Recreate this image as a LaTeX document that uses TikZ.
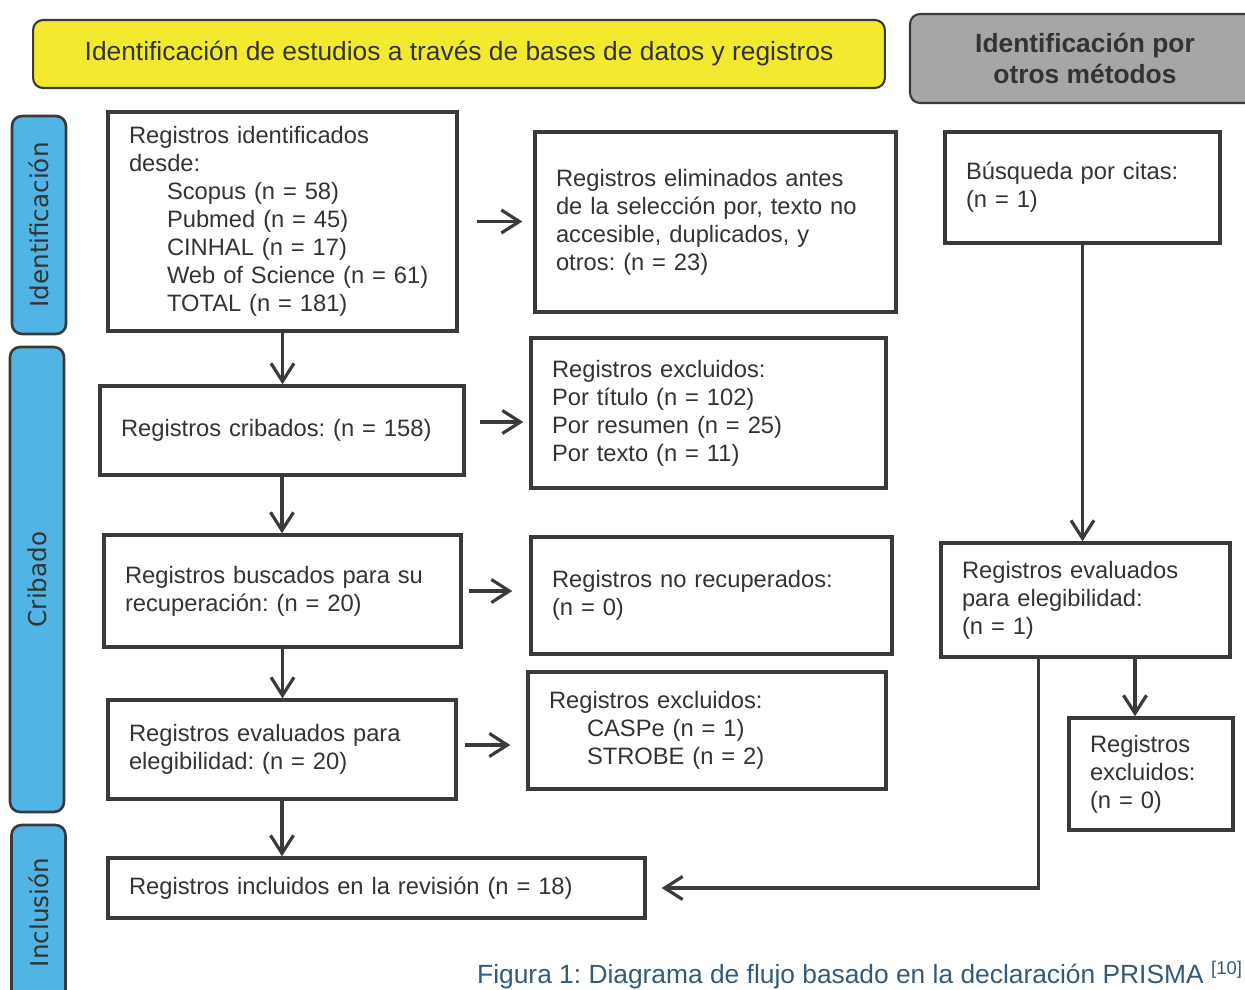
\documentclass[tikz,border=0pt]{standalone}
\usepackage{fontspec}
\setmainfont{Liberation Sans}
\newfontfamily\ladofont{DejaVu Sans}
\usetikzlibrary{arrows.meta}
\definecolor{amarillo}{RGB}{243,234,47}
\definecolor{gris}{RGB}{166,166,166}
\definecolor{azul}{RGB}{80,180,228}
\definecolor{borde}{RGB}{58,58,58}
\definecolor{texto}{RGB}{51,51,51}
\definecolor{pie}{RGB}{52,90,120}
\frenchspacing

\begin{document}
\begin{tikzpicture}[x=0.02cm,y=-0.02cm,
  caja/.style={rectangle,draw=borde,line width=2pt,text=texto,align=left,inner xsep=0.42cm,font=\fontsize{13.5}{15.9}\selectfont},
  titulo/.style={rectangle,rounded corners=0.2cm,draw=borde,line width=1.2pt,text=texto,align=center},
  fase/.style={rectangle,rounded corners=0.2cm,draw=borde,line width=1.5pt,fill=azul,text=texto,rotate=90,minimum height=1.08cm,font=\ladofont\fontsize{14}{16}\selectfont},
  flecha/.style={draw=borde,line width=1.8pt,-{Straight Barb[length=3.6mm,width=4.6mm]}}]
\useasboundingbox (0,0) rectangle (1245,990);
% cabeceras
\path (459,54) node[titulo,fill=amarillo,minimum width=17.04cm,minimum height=1.36cm,font=\fontsize{15}{18}\selectfont] (bases) {Identificación de estudios a través de bases de datos y registros};
\path (1085,58.5) node[titulo,fill=gris,minimum width=7cm,minimum height=1.78cm,font=\bfseries\fontsize{15}{17.6}\selectfont] (otros) {Identificación por\\otros métodos};
% fases
\path (39,225) node[fase,minimum width=4.36cm] (fid) {Identificación};
\path (37,579.5) node[fase,minimum width=9.3cm] (fcr) {Cribado};
\path (38.5,912.5) node[fase,minimum width=3.5cm] (fin) {Inclusión};
% columna izquierda
\path (282.5,221.5) node[caja,text width=6.14cm,minimum height=4.38cm] (ide) {Registros identificados\\desde:\\
\hspace*{0.76cm}Scopus (n = 58)\\
\hspace*{0.76cm}Pubmed (n = 45)\\
\hspace*{0.76cm}CINHAL (n = 17)\\
\hspace*{0.76cm}Web of Science (n = 61)\\
\hspace*{0.76cm}TOTAL (n = 181)};
\path (282,430.5) node[caja,text width=6.44cm,minimum height=1.78cm] (cri) {Registros cribados: (n = 158)};
\path (282.5,591) node[caja,text width=6.3cm,minimum height=2.24cm] (bus) {Registros buscados para su\\recuperación: (n = 20)};
\path (282,749.5) node[caja,text width=6.12cm,minimum height=1.98cm] (eva) {Registros evaluados para\\elegibilidad: (n = 20)};
\path (376.5,888) node[caja,text width=9.9cm,minimum height=1.2cm] (inc) {Registros incluidos en la revisión (n = 18)};
% columna central
\path (715.5,222) node[caja,text width=6.38cm,minimum height=3.6cm] (eli) {Registros eliminados antes\\de la selección por, texto no\\accesible, duplicados, y\\otros: (n = 23)};
\path (708.5,413) node[caja,text width=6.26cm,minimum height=3cm] (exc) {Registros excluidos:\\Por título (n = 102)\\Por resumen (n = 25)\\Por texto (n = 11)};
\path (711.5,595.5) node[caja,text width=6.38cm,minimum height=2.34cm] (nor) {Registros no recuperados:\\(n = 0)};
\path (707,730.5) node[caja,text width=6.32cm,minimum height=2.34cm] (cas) {Registros excluidos:\\
\hspace*{0.76cm}CASPe (n = 1)\\
\hspace*{0.76cm}STROBE (n = 2)};
% otros metodos
\path (1082.5,187.5) node[caja,text width=4.66cm,minimum height=2.22cm] (cit) {Búsqueda por citas:\\(n = 1)};
\path (1085.5,600) node[caja,text width=4.94cm,minimum height=2.28cm] (evr) {Registros evaluados\\para elegibilidad:\\(n = 1)};
\path (1151,774) node[caja,text width=2.44cm,minimum height=2.24cm] (exr) {Registros\\excluidos:\\(n = 0)};
% flechas
\draw[flecha] (ide.south) -- (ide.south |- cri.north);
\draw[flecha] (cri.south) -- (cri.south |- bus.north);
\draw[flecha] (bus.south) -- (bus.south |- eva.north);
\draw[flecha] (eva.south) -- (eva.south |- inc.north);
\draw[flecha,shorten <=0.36cm,shorten >=0.22cm] (ide.east) -- (ide.east -| eli.west);
\draw[flecha,shorten <=0.28cm,shorten >=0.12cm] ([yshift=0.17cm]cri.east) -- ([yshift=0.17cm]cri.east -| exc.west);
\draw[flecha,shorten <=0.12cm,shorten >=0.34cm] (bus.east) -- (bus.east -| nor.west);
\draw[flecha,shorten <=0.14cm,shorten >=0.32cm] ([yshift=0.09cm]eva.east) -- ([yshift=0.09cm]eva.east -| cas.west);
\draw[flecha] (cit.south) -- (cit.south |- evr.north);
\draw[flecha] ([xshift=-0.32cm]exr.north |- evr.south) -- ([xshift=-0.32cm]exr.north);
\draw[flecha,shorten >=0.3cm] ([xshift=1.98cm]evr.south west) |- (inc.east);
% pie
\path (860,975) node[text=pie,font=\fontsize{15}{18}\selectfont] (fig) {Figura 1: Diagrama de flujo basado en la declaración PRISMA \textsuperscript{[10]}};
\end{tikzpicture}
\end{document}
